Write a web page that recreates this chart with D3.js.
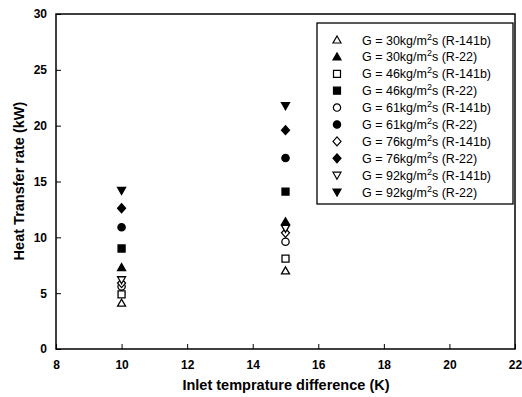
<!DOCTYPE html>
<html>
<head>
<meta charset="utf-8">
<script src="https://cdn.jsdelivr.net/npm/d3@7"></script>
<style>
body { margin: 0; background: #fff; }
svg text { font-family: "Liberation Sans", Arial, sans-serif; }
</style>
</head>
<body>
<script>
var width = 522
var height = 397

// x positions (inlet temperature difference, K)
var temps = [10, 15]

// mass flux labels and refrigerants
var fluxes = [30, 46, 61, 76, 92]
var fluids = ["R-141b", "R-22"]

// heat transfer rate (kW) per series, at 10 K and 15 K
var r141b_30 = [4.1, 7.0]
var r22_30   = [7.3, 11.4]
var r141b_46 = [4.9, 8.1]
var r22_46   = [9.0, 14.1]
var r141b_61 = [5.6, 9.6]
var r22_61   = [10.9, 17.1]
var r141b_76 = [5.9, 10.4]
var r22_76   = [12.6, 19.6]
var r141b_92 = [6.2, 10.8]
var r22_92   = [14.2, 21.8]

var xTicks = [8, 10, 12, 14, 16, 18, 20, 22]
var yTicks = [0, 5, 10, 15, 20, 25, 30]

var series = [
  {g: 30, fluid: "R-141b", shape: "triUp", filled: false, values: r141b_30},
  {g: 30, fluid: "R-22", shape: "triUp", filled: true, values: r22_30},
  {g: 46, fluid: "R-141b", shape: "square", filled: false, values: r141b_46},
  {g: 46, fluid: "R-22", shape: "square", filled: true, values: r22_46},
  {g: 61, fluid: "R-141b", shape: "circle", filled: false, values: r141b_61},
  {g: 61, fluid: "R-22", shape: "circle", filled: true, values: r22_61},
  {g: 76, fluid: "R-141b", shape: "diamond", filled: false, values: r141b_76},
  {g: 76, fluid: "R-22", shape: "diamond", filled: true, values: r22_76},
  {g: 92, fluid: "R-141b", shape: "triDown", filled: false, values: r141b_92},
  {g: 92, fluid: "R-22", shape: "triDown", filled: true, values: r22_92}
]

var svg = d3.select("body")
    .append("svg")
    .attr("width", width)
    .attr("height", height);

var x_scale = d3.scaleLinear().domain([8, 22]).range([56, 515]);
var y_scale = d3.scaleLinear().domain([0, 30]).range([349, 14]);

// symbol paths, sized by hand
function shapePath(shape) {
  if (shape == "triUp") return "M0,-4L4,3L-4,3Z";
  if (shape == "triDown") return "M0,4L4,-3L-4,-3Z";
  if (shape == "square") return "M-3.5,-3.5H3.5V3.5H-3.5Z";
  if (shape == "diamond") return "M0,-4.5L4,0L0,4.5L-4,0Z";
  return d3.symbol().type(d3.symbolCircle).size(42)();
}

// frame
svg.append("rect")
    .attr("x", 56).attr("y", 14)
    .attr("width", 459).attr("height", 335)
    .attr("fill", "none")
    .attr("stroke", "#000")
    .attr("stroke-width", 1.5);

var x_axis = d3.axisBottom(x_scale).tickValues(xTicks).tickSizeInner(-5).tickSizeOuter(0).tickPadding(11);
var y_axis = d3.axisLeft(y_scale).tickValues(yTicks).tickSizeInner(-5).tickSizeOuter(0).tickPadding(9);

var gx = svg.append("g").attr("transform", "translate(0,349)").call(x_axis);
var gy = svg.append("g").attr("transform", "translate(56,0)").call(y_axis);
[gx, gy].forEach(function(g) {
  g.select(".domain").remove();
  g.selectAll("line").attr("stroke", "#000");
  g.selectAll("text")
    .attr("font-size", 12)
    .attr("font-weight", "bold")
    .attr("fill", "#000");
});

svg.append("text")
    .attr("x", 286).attr("y", 390)
    .attr("text-anchor", "middle")
    .attr("font-size", 14.5)
    .attr("font-weight", "bold")
    .text("Inlet temprature difference (K)");

svg.append("text")
    .attr("transform", "translate(24,181) rotate(-90)")
    .attr("text-anchor", "middle")
    .attr("font-size", 14.5)
    .attr("font-weight", "bold")
    .text("Heat Transfer rate (kW)");

// points
series.forEach(function(s) {
  svg.append("g").selectAll("path")
    .data(s.values)
    .enter()
    .append("path")
    .attr("d", shapePath(s.shape))
    .attr("transform", (d, i) => "translate(" + x_scale(temps[i]) + "," + y_scale(d) + ")")
    .attr("fill", s.filled ? "#000" : "#fff")
    .attr("stroke", "#000")
    .attr("stroke-width", 1.3);
});

// legend
var legend = svg.append("g");
legend.append("rect")
    .attr("x", 317).attr("y", 23)
    .attr("width", 196).attr("height", 181)
    .attr("fill", "#fff")
    .attr("stroke", "#000")
    .attr("stroke-width", 1.3);

series.forEach(function(s, i) {
  var y = 40 + i * 16.9;
  legend.append("path")
    .attr("d", shapePath(s.shape))
    .attr("transform", "translate(337," + y + ")")
    .attr("fill", s.filled ? "#000" : "#fff")
    .attr("stroke", "#000")
    .attr("stroke-width", 1.2);
  var t = legend.append("text")
    .attr("x", 362).attr("y", y + 4.5)
    .attr("font-size", 12.5)
    .attr("fill", "#000");
  t.append("tspan").text("G = " + s.g + "kg/m");
  t.append("tspan").attr("dy", -5).attr("font-size", 9).text("2");
  t.append("tspan").attr("dy", 5).text("s (" + s.fluid + ")");
});
</script>
</body>
</html>
